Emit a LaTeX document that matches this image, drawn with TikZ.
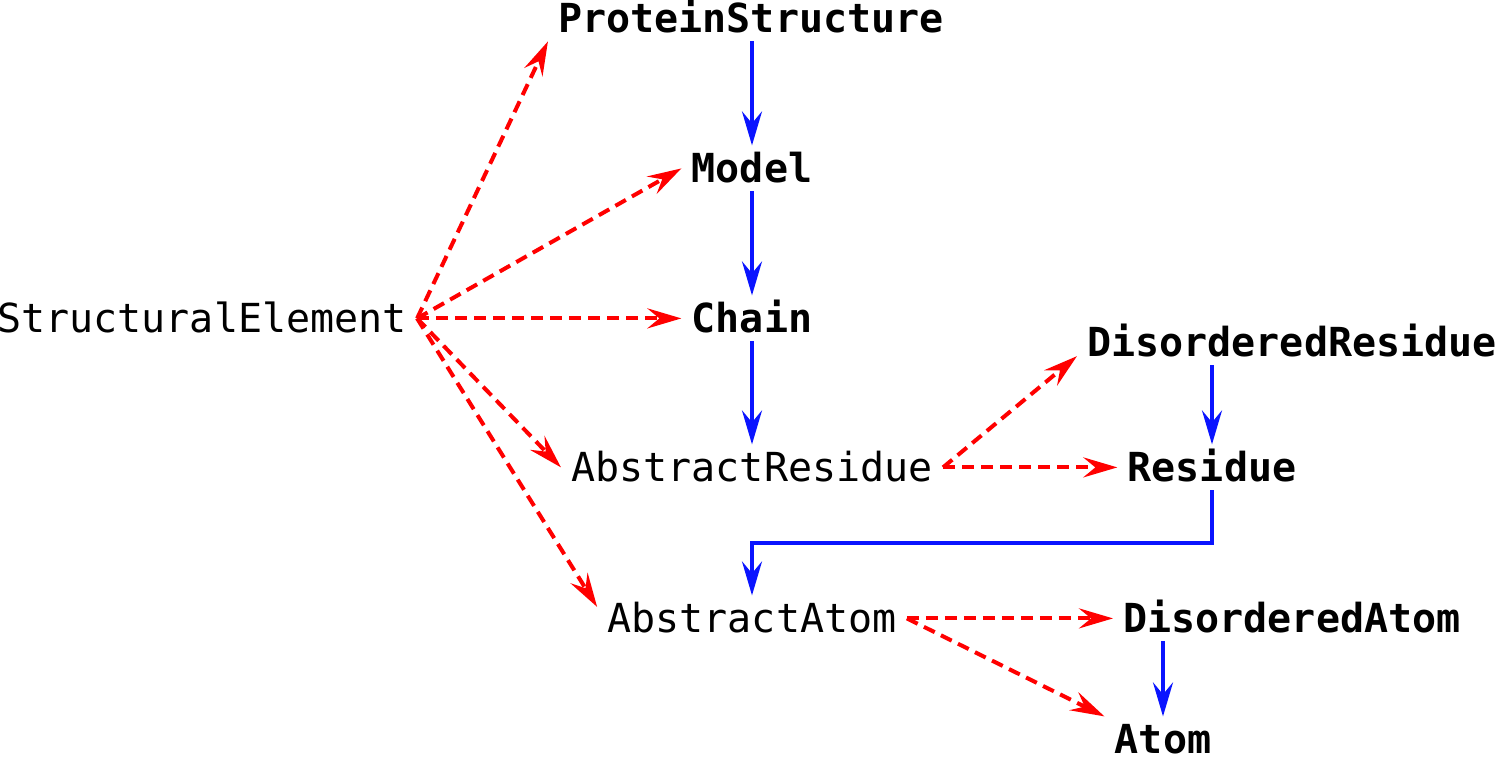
\documentclass[tikz,border=0pt]{standalone}
\usepackage{fontspec}
\newfontfamily\dvm{DejaVu Sans Mono}
\usetikzlibrary{arrows.meta,calc}
\begin{document}
\begin{tikzpicture}[x=0.5pt,y=-0.5pt,
  cls/.style={font=\dvm\fontsize{20}{24}\selectfont, anchor=base, inner xsep=5pt, inner ysep=4pt, text height=14.6pt, text depth=0pt},
  bcls/.style={cls, font=\dvm\bfseries\fontsize{20}{24}\selectfont},
  contain/.style={draw={rgb,255:red,10;green,20;blue,255}, line width=2pt, -{Stealth[length=17pt,width=10pt,inset=6pt]}},
  inherit/.style={draw=red, line width=2pt, dash pattern=on 6pt off 3.5pt, -{Stealth[length=17pt,width=10pt,inset=6pt]}}]
\useasboundingbox (0,0) rectangle (1495,758);
\node[bcls] (ps) at (751,33) {ProteinStructure};
\node[bcls] (model) at (752,183) {Model};
\node[bcls] (chain) at (752,333) {Chain};
\node[cls] (se) at (202,333) {StructuralElement};
\node[cls] (ar) at (752,482) {AbstractResidue};
\node[bcls] (dr) at (1292,357) {DisorderedResidue};
\node[bcls] (res) at (1212,482) {Residue};
\node[cls] (aa) at (752,633) {AbstractAtom};
\node[bcls] (da) at (1292,633) {DisorderedAtom};
\node[bcls] (atom) at (1163,754) {Atom};
\coordinate (bend) at (0,543);
% containment (blue)
\draw[contain] (model.north |- ps.south) -- (model.north);
\draw[contain] (model.south) -- (chain.north);
\draw[contain] (chain.south) -- (ar.north);
\draw[contain] (res.north |- dr.south) -- (res.north);
\draw[contain] (res.south) -- (res.south |- bend) -- (aa.north |- bend) -- (aa.north);
\draw[contain] (atom.north |- da.south) -- (atom.north);
% inheritance (red dashed)
\draw[inherit] (se.east) -- (ps.south west);
\draw[inherit] (se.east) -- (model.west);
\draw[inherit] (se.east) -- (chain.west);
\draw[inherit] (se.east) -- (ar.west);
\draw[inherit] (se.east) -- ($(aa.west)!0.5!(aa.north west)$);
\draw[inherit] (ar.east) -- ($(dr.west)!0.6!(dr.south west)$);
\draw[inherit] (ar.east) -- (res.west);
\draw[inherit] (aa.east) -- (da.west);
\draw[inherit] (aa.east) -- (atom.north west);
\end{tikzpicture}
\end{document}
